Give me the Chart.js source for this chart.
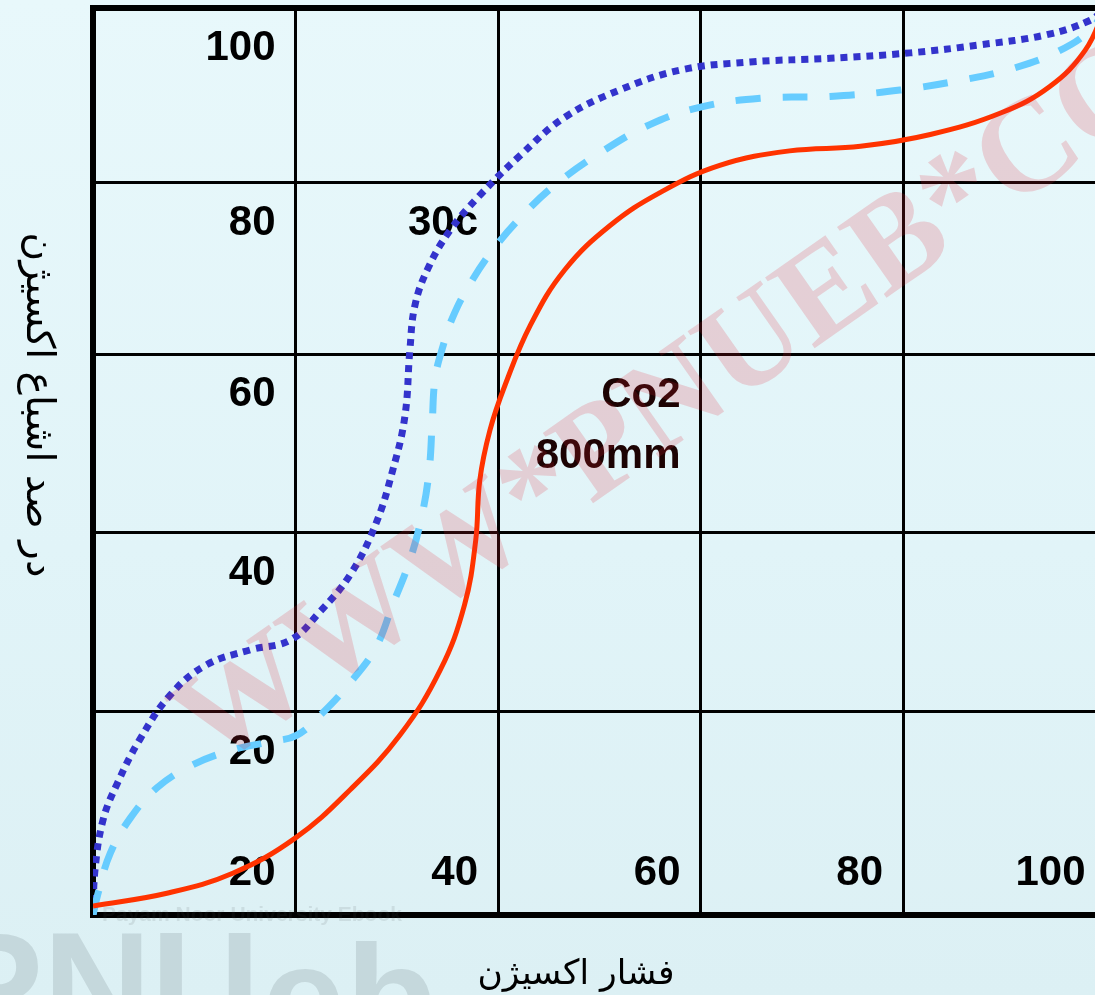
<!DOCTYPE html>
<html>
<head>
<meta charset="utf-8">
<script src="https://cdn.jsdelivr.net/npm/chart.js@4.4.1/dist/chart.umd.min.js"></script>
<style>
  html, body { margin: 0; padding: 0; overflow: hidden; }
  body {
    width: 1095px; height: 995px;
    background: linear-gradient(180deg, #e8f8fb 0%, #e1f4f8 55%, #dcf0f4 100%);
  }
  #wrap { position: absolute; left: 0; top: 0; }
</style>
</head>
<body>
<div id="wrap"><canvas id="curveChart" width="1120" height="995"></canvas></div>
<script>
// oxygen pressure (x) vs. percent saturation (y), three curves
const warmX = [0, 0.2, 1.0, 2.4, 4.6, 7.6, 11.1, 15.5, 19.5, 22.4, 25.4, 27.9, 29.6, 30.8, 31.3, 31.8, 33.1, 35.3, 38.2, 42.2, 46.6, 52.0, 58.0, 64.9, 72.8, 80.7, 87.7, 94.2, 98.5, 100];
const warmY = [0, 5.0, 10.5, 14.5, 19.3, 24.2, 27.5, 29.2, 30.3, 33.4, 37.5, 43.0, 49.0, 54.9, 62.3, 67.2, 71.3, 75.5, 79.3, 83.7, 87.9, 90.9, 93.1, 94.0, 94.4, 95.0, 95.9, 97.0, 98.6, 100];

const normalX = [0, 0.5, 1.7, 3.7, 6.3, 9.6, 13.5, 17.5, 20.1, 22.7, 25.4, 27.9, 29.6, 31.3, 32.5, 33.2, 33.5, 33.8, 34.6, 35.5, 37.0, 39.5, 42.7, 45.8, 50.1, 55.0, 59.9, 65.9, 72.8, 79.7, 86.3, 90.9, 95.2, 98.5, 100];
const normalY = [0, 2.4, 6.8, 10.7, 14.0, 16.4, 18.1, 19.1, 19.8, 22.3, 25.6, 29.4, 34.2, 39.1, 44.1, 49.0, 54.2, 59.2, 62.8, 65.8, 69.1, 73.3, 77.4, 80.6, 84.0, 87.1, 89.0, 90.0, 90.2, 90.9, 92.1, 93.3, 95.1, 97.5, 100];

const co2X = [0, 7.3, 13.8, 20.0, 25.4, 30.3, 34.3, 36.7, 37.8, 38.2, 39.2, 40.7, 43.2, 46.6, 51.1, 56.0, 61.9, 68.8, 75.8, 82.7, 89.7, 94.5, 98.0, 100];
const co2Y = [1.0, 2.4, 4.6, 8.5, 13.8, 19.8, 27.0, 34.2, 41.3, 47.9, 53.4, 58.4, 65.0, 71.1, 76.0, 79.6, 82.6, 84.2, 84.7, 86.0, 88.4, 91.3, 95.3, 100];

// grid rows are not evenly spaced
const yGrid = [0, 22.4, 42.1, 61.8, 80.7, 100];
const yLabels = ['100', '80', '60', '40', '20'];
const xTicks = [20, 40, 60, 80, 100];
const xLabels = ['20', '40', '60', '80', '100'];
const curveNotes = ['30c', 'Co2', '800mm'];

const xTitle = 'فشار اکسیژن';
const yTitle = 'در صد اشباع اکسیژن';

function toPoints(xs, ys) {
  return xs.map((x, i) => ({ x, y: ys[i] }));
}

function fitFont(ctx, text, width, weight, family) {
  ctx.font = `${weight} 100px ${family}`;
  return 100 * width / ctx.measureText(text).width;
}

const cellText = {
  id: 'cellText',
  beforeDatasetsDraw(chart) {
    const { ctx, scales: { x, y } } = chart;
    ctx.save();
    ctx.font = 'bold 42px "Liberation Sans", Arial, sans-serif';
    ctx.textAlign = 'right';
    ctx.textBaseline = 'alphabetic';
    ctx.fillStyle = '#000';
    const firstCol = x.getPixelForValue(20) - 20;
    yLabels.forEach((t, i) => {
      ctx.fillText(t, firstCol, y.getPixelForValue(yGrid[yGrid.length - 1 - i]) + 52);
    });
    xLabels.forEach((t, i) => {
      ctx.fillText(t, x.getPixelForValue(xTicks[i]) - 20, y.bottom - 30);
    });
    ctx.fillText(curveNotes[0], x.getPixelForValue(40) - 20, y.getPixelForValue(80.7) + 52);
    ctx.fillStyle = '#1c0303';
    ctx.fillText(curveNotes[1], x.getPixelForValue(60) - 20, y.getPixelForValue(61.8) + 53);
    ctx.fillText(curveNotes[2], x.getPixelForValue(60) - 20, y.getPixelForValue(61.8) + 114);
    ctx.restore();
  }
};

const axisTitles = {
  id: 'axisTitles',
  afterDraw(chart) {
    const { ctx, chartArea } = chart;
    const fam = '"DejaVu Sans", sans-serif';
    ctx.save();
    ctx.fillStyle = '#000';
    ctx.textAlign = 'center';
    ctx.textBaseline = 'middle';
    let size = fitFont(ctx, xTitle, 197, 'normal', fam);
    ctx.font = `normal ${size}px ${fam}`;
    ctx.fillText(xTitle, 576, chartArea.bottom + 60);

    size = fitFont(ctx, yTitle, 345, 'normal', fam);
    ctx.font = `normal ${size}px ${fam}`;
    ctx.translate(37, 405);
    ctx.rotate(Math.PI / 2);
    ctx.fillText(yTitle, 0, 0);
    ctx.restore();
  }
};

// faint site stamp over the whole figure
const stamp = {
  id: 'stamp',
  afterDraw(chart) {
    const { ctx } = chart;
    ctx.save();
    ctx.font = 'bold 150px "Liberation Sans", sans-serif';
    ctx.fillStyle = 'rgba(105, 120, 125, 0.2)';
    ctx.textBaseline = 'alphabetic';
    ctx.fillText('PNU', -57, 1037);
    ctx.fillText('eb', 262, 1050);

    ctx.font = 'bold 21px "Liberation Sans", sans-serif';
    ctx.fillStyle = 'rgba(70, 80, 85, 0.12)';
    ctx.fillText('Payam Noor University Ebook', 102, 921);

    ctx.translate(212, 770);
    ctx.rotate(-35 * Math.PI / 180);
    ctx.font = 'bold 132px "Liberation Serif", serif';
    ctx.fillStyle = 'rgba(225, 35, 50, 0.18)';
    ctx.fillText('WWW*PNUEB*COM', 0, 0);
    ctx.restore();
  }
};

const gridLine = { color: '#000', lineWidth: 3, drawTicks: false };
const frame = { display: true, color: '#000', width: 6 };

new Chart(document.getElementById('curveChart'), {
  type: 'line',
  data: {
    datasets: [
      { label: 'Co2 800mm', data: toPoints(co2X, co2Y), borderColor: '#ff3300', borderWidth: 5 },
      { label: 'normal', data: toPoints(normalX, normalY), borderColor: '#66ccff', borderWidth: 7, borderDash: [25, 22] },
      { label: '30c', data: toPoints(warmX, warmY), borderColor: '#3333cc', borderWidth: 7, borderDash: [7, 6] }
    ]
  },
  options: {
    responsive: false,
    animation: false,
    devicePixelRatio: 1,
    layout: { padding: { left: 93, top: 7.5, right: 14.5, bottom: 80 } },
    plugins: { legend: { display: false }, tooltip: { enabled: false } },
    elements: {
      point: { radius: 0 },
      line: { tension: 0.4, borderCapStyle: 'butt', fill: false }
    },
    scales: {
      x: {
        type: 'linear', min: 0, max: 100,
        ticks: { display: false, stepSize: 20 },
        grid: gridLine, border: frame
      },
      y: {
        type: 'linear', min: 0, max: 100,
        afterBuildTicks: (scale) => { scale.ticks = yGrid.map(v => ({ value: v })); },
        ticks: { display: false },
        grid: gridLine, border: frame
      },
      xTop: {
        type: 'linear', axis: 'x', position: 'top', min: 0, max: 100,
        ticks: { display: false },
        grid: { drawOnChartArea: false, drawTicks: false },
        border: frame
      }
    }
  },
  plugins: [cellText, axisTitles, stamp]
});
</script>
</body>
</html>
